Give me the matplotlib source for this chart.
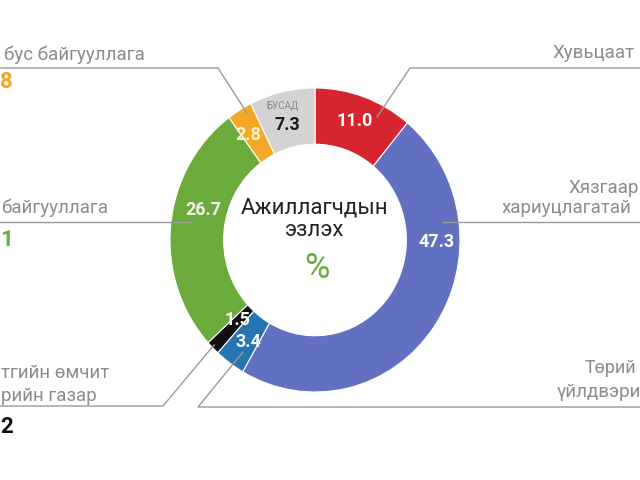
import matplotlib.pyplot as plt

# donut data (clockwise from 12 o'clock)
segments = ['Хувьцаат', 'ХХК', 'Төрийн өмчит', 'Орон нутгийн өмчит', 'Хувийн', 'Төрийн бус', 'БУСАД']
shares = [11.0, 47.3, 3.4, 1.5, 26.7, 2.8, 7.3]
colors = ['#d7252f', '#6170c0', '#2674b2', '#111111', '#6aab3b', '#f6a725', '#d3d3d3']

# value labels inside the ring (pixel positions)
val_pos = [(355, 121), (437, 242), (248, 342), (237, 320), (203, 210), (248, 135), (287, 125)]
val_col = ['white', 'white', 'white', 'white', '#f2f7e8', '#fff4c8', '#1a1a1a']

# leader lines
leaders = [
    [(0, 68), (218, 68), (247, 113)],
    [(0, 222), (192, 222)],
    [(0, 406), (163, 406), (214, 345)],
    [(640, 407), (198, 407), (243, 352)],
    [(443, 222), (640, 222)],
    [(640, 68), (410, 68), (377, 117)],
]

plt.rcParams['font.family'] = ['Roboto', 'DejaVu Sans']

fig = plt.figure(figsize=(6.4, 4.8), dpi=100)

# pie axes, slightly taller than wide like the source
cx, cy, rx, ry = 315, 240, 145, 152
axp = fig.add_axes([(cx - rx) / 640, (480 - cy - ry) / 480, 2 * rx / 640, 2 * ry / 480])
axp.pie(shares, colors=colors, startangle=90, counterclock=False, radius=1,
        wedgeprops=dict(width=0.37, edgecolor='white', linewidth=0.8))
axp.set_aspect('auto')
axp.set_xlim(-1, 1)
axp.set_ylim(-1, 1)
axp.axis('off')

# overlay in pixel coordinates
ax = fig.add_axes([0, 0, 1, 1], facecolor='none')
ax.set_xlim(0, 640)
ax.set_ylim(480, 0)
ax.axis('off')

for pts in leaders:
    xs = [p[0] for p in pts]
    ys = [p[1] for p in pts]
    ax.plot(xs, ys, color='#9a9a9a', lw=1)

for v, (x, y), c in zip(shares, val_pos, val_col):
    ax.text(x, y, f'{v:.1f}', color=c, fontsize=13, fontweight='bold', ha='center', va='center')
ax.text(282, 106, 'БУСАД', color='#8a8a8a', fontsize=7, ha='center', va='center')

# centre text
ax.text(315, 208, 'Ажиллагчдын', color='#222222', fontsize=16, ha='center', va='center')
ax.text(315, 231, 'эзлэх', color='#222222', fontsize=16, ha='center', va='center')
ax.text(317, 268, '%', color='#6aab3b', fontsize=25, ha='center', va='center')

grey = '#8c8c8c'
fs = 13.5
# left side labels (only the part visible in the frame)
ax.text(4, 55, 'бус байгууллага', color=grey, fontsize=fs, ha='left', va='center')
ax.text(0, 82, '8', color='#f6a725', fontsize=16, fontweight='bold', ha='left', va='center')
ax.text(1, 208, 'байгууллага', color=grey, fontsize=fs, ha='left', va='center')
ax.text(0, 240, '1', color='#6aab3b', fontsize=16, fontweight='bold', ha='left', va='center')
ax.text(1, 373, 'тгийн өмчит', color=grey, fontsize=fs, ha='left', va='center')
ax.text(1, 396, 'рийн газар', color=grey, fontsize=fs, ha='left', va='center')
ax.text(0, 427, '2', color='#111111', fontsize=16, fontweight='bold', ha='left', va='center')

# right side labels
ax.text(552, 53, 'Хувьцаат', color=grey, fontsize=fs, ha='left', va='center')
ax.text(568, 188, 'Хязгаар', color=grey, fontsize=fs, ha='left', va='center')
ax.text(502, 208, 'хариуцлагатай', color=grey, fontsize=fs, ha='left', va='center')
ax.text(585, 368, 'Төрий', color=grey, fontsize=13, ha='left', va='center')
ax.text(557, 392, 'үйлдвэри', color=grey, fontsize=fs, ha='left', va='center')

fig.savefig('out.png', dpi=100, facecolor='white')
